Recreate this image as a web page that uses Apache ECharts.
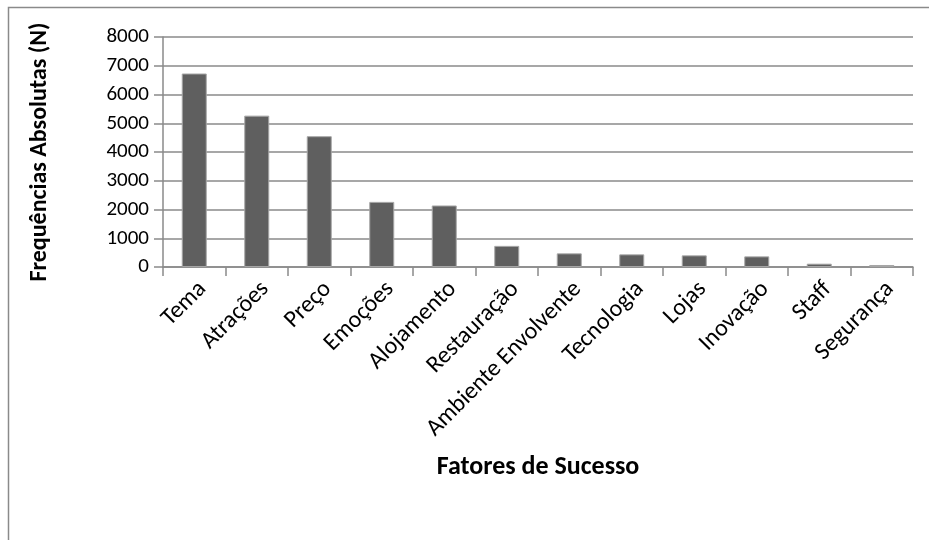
<!DOCTYPE html>
<html>
<head>
<meta charset="utf-8">
<script src="https://cdn.jsdelivr.net/npm/echarts@6/dist/echarts.min.js"></script>
<style>
html,body{margin:0;padding:0;background:#fff;}
#c{width:929px;height:540px;}
</style>
</head>
<body>
<div id="c"></div>
<script>
const categories = ['Tema','Atrações','Preço','Emoções','Alojamento','Restauração','Ambiente Envolvente','Tecnologia','Lojas','Inovação','Staff','Segurança'];
const values = [6730, 5265, 4550, 2265, 2140, 735, 475, 440, 405, 370, 115, 70];
const yTicks = {min: 0, max: 8000, interval: 1000};
const xTitle = 'Fatores de Sucesso';
const yTitle = 'Frequências Absolutas (N)';

const FONT = "Carlito, Calibri, Lato, 'Open Sans', sans-serif";
const chart = echarts.init(document.getElementById('c'), null, {renderer: 'canvas'});
chart.setOption({
  backgroundColor: '#fff',
  animation: false,
  graphic: [{
    type: 'rect', shape: {x: 8.5, y: 7.5, width: 1000, height: 600},
    style: {fill: 'none', stroke: '#8a8a8a', lineWidth: 1.5}, silent: true, z: -1
  }],
  grid: {left: 163, right: 16, top: 37, bottom: 273, containLabel: false},
  xAxis: {
    type: 'category', data: categories, boundaryGap: true,
    name: xTitle, nameLocation: 'middle', nameGap: 187,
    nameTextStyle: {fontFamily: FONT, fontSize: 26, fontWeight: 'bold', color: '#000'},
    axisLine: {show: true, lineStyle: {color: '#8a8a8a', width: 1.5}},
    axisTick: {show: true, length: 9, alignWithLabel: false, interval: 0, lineStyle: {color: '#8a8a8a', width: 1.5}},
    axisLabel: {interval: 0, rotate: 45, margin: 10, verticalAlign: 'top', fontFamily: FONT, fontSize: 24, color: '#000'},
    splitLine: {show: false}
  },
  yAxis: {
    type: 'value', min: yTicks.min, max: yTicks.max, interval: yTicks.interval,
    name: yTitle, nameLocation: 'middle', nameGap: 111, nameRotate: 90,
    nameTextStyle: {fontFamily: FONT, fontSize: 24, fontWeight: 'bold', color: '#000'},
    axisLine: {show: true, lineStyle: {color: '#8a8a8a', width: 1.5}},
    axisTick: {show: true, length: 9, lineStyle: {color: '#8a8a8a', width: 1.5}},
    axisLabel: {margin: 14, fontFamily: FONT, fontSize: 21, color: '#000', formatter: v => String(v)},
    splitLine: {show: true, lineStyle: {color: '#8a8a8a', width: 1.5}}
  },
  series: [{
    type: 'bar', data: values, barWidth: 25,
    itemStyle: {color: '#5f5f5f', borderColor: '#a6a6a6', borderWidth: 1}
  }]
});
</script>
</body>
</html>
